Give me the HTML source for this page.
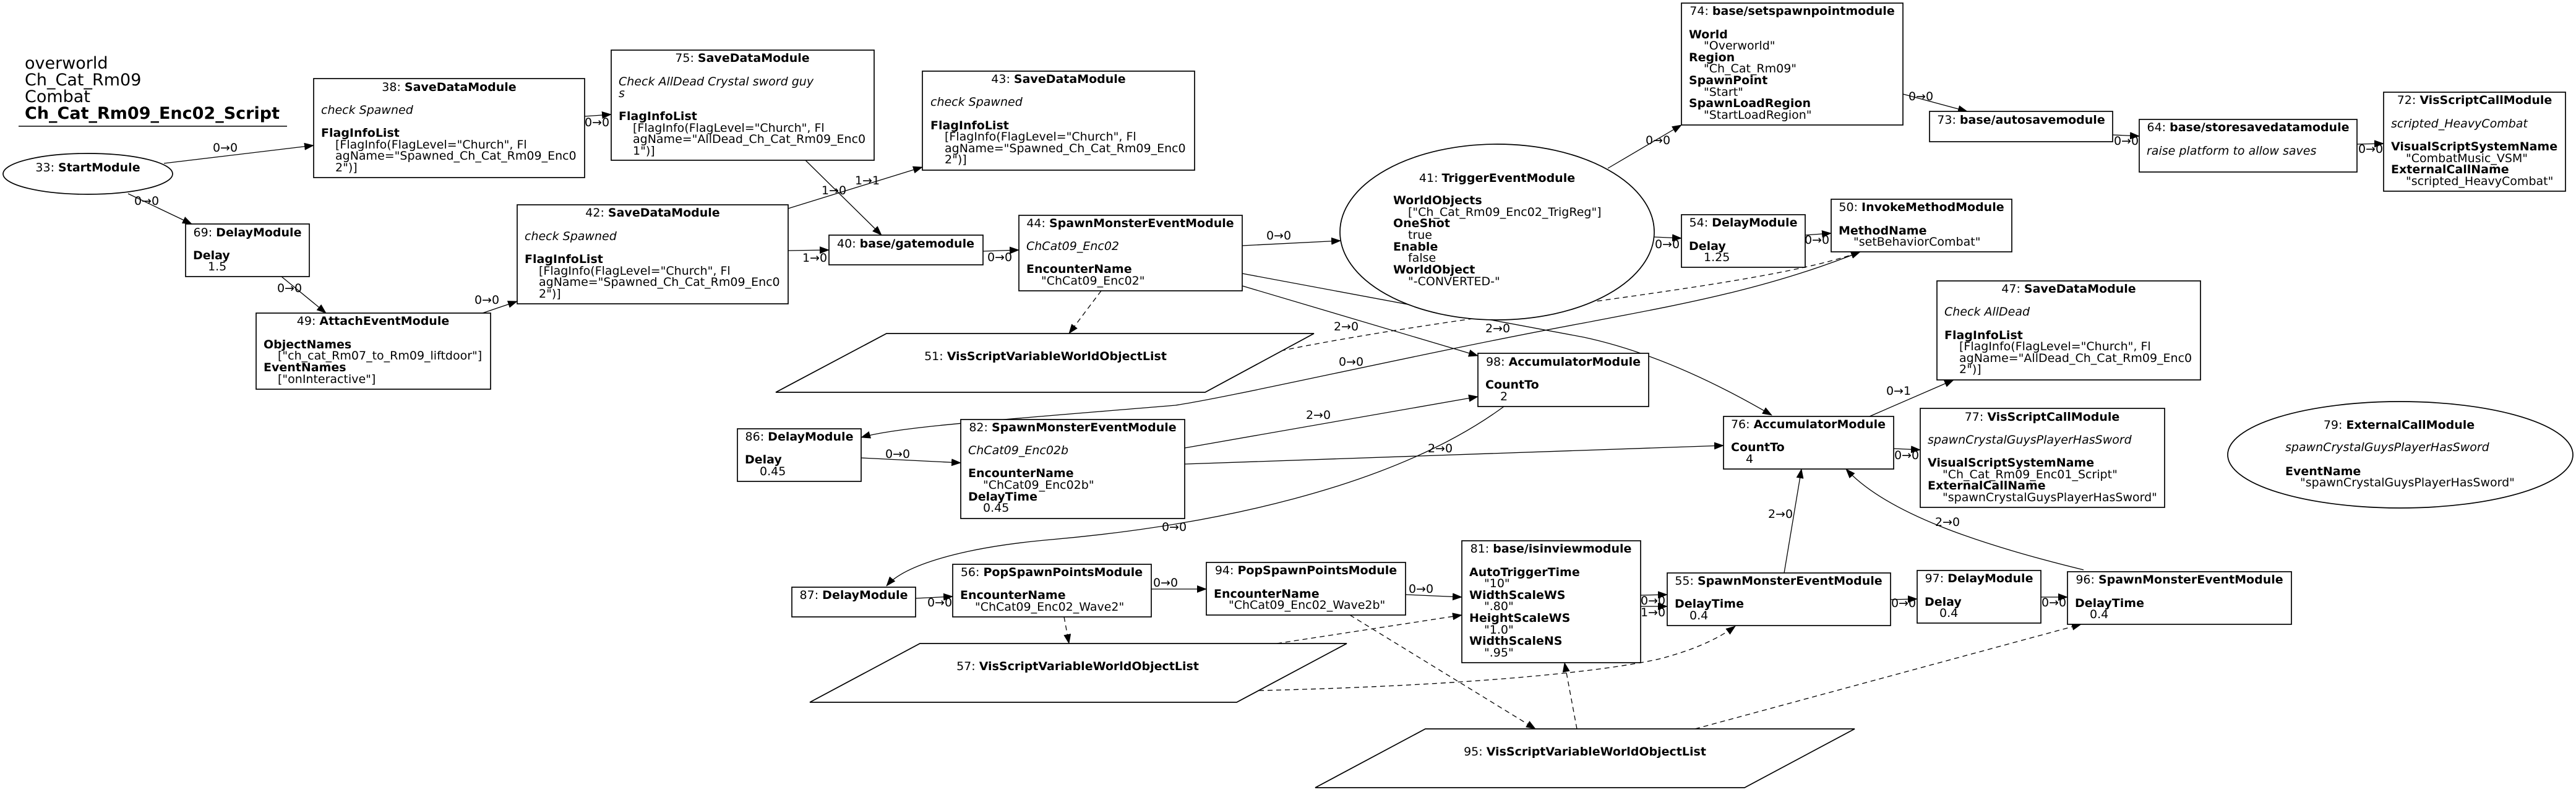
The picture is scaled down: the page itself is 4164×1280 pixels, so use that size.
<!DOCTYPE html>
<html><head><meta charset="utf-8"><style>
html,body{margin:0;padding:0;background:#fff;}
svg{display:block;}
text{font-family:"DejaVu Sans","Liberation Sans",sans-serif;font-size:19px;fill:#000;}
.b{font-weight:bold;}
.i{font-style:italic;}
.n{fill:#fff;stroke:#000;stroke-width:1.7;}
.e{fill:none;stroke:#000;stroke-width:1.3;}
.d{fill:none;stroke:#000;stroke-width:1.3;stroke-dasharray:8,6;}
.c{text-anchor:middle;}
</style></head><body>
<svg width="4164" height="1280" viewBox="0 0 4164 1280" xmlns="http://www.w3.org/2000/svg">
<defs>
<marker id="a" markerWidth="16" markerHeight="12" refX="15" refY="6" orient="auto" markerUnits="userSpaceOnUse"><path d="M0,0 L16,6 L0,12 z" fill="#000"/></marker>
</defs>
<rect width="4164" height="1280" fill="#fff"/>

<!-- title -->
<g style="font-size:27px">
<text x="40" y="111" style="font-size:27px">overworld</text>
<text x="40" y="138" style="font-size:27px">Ch_Cat_Rm09</text>
<text x="40" y="165" style="font-size:27px">Combat</text>
<text x="40" y="192" class="b" style="font-size:27px">Ch_Cat_Rm09_Enc02_Script</text>
</g>
<line x1="30" y1="204" x2="464" y2="204" stroke="#000" stroke-width="1.5"/>

<!-- edges -->
<path class="e" d="M265,264 L507,235" marker-end="url(#a)"/>
<path class="e" d="M207,313 L310,362" marker-end="url(#a)"/>
<path class="e" d="M455,447 L527,506" marker-end="url(#a)"/>
<path class="e" d="M780,506 L836,487" marker-end="url(#a)"/>
<path class="e" d="M945,188 L988,185" marker-end="url(#a)"/>
<path class="e" d="M1302,259 L1425,380" marker-end="url(#a)"/>
<path class="e" d="M1274,337 L1491,270" marker-end="url(#a)"/>
<path class="e" d="M1274,405 L1340,404" marker-end="url(#a)"/>
<path class="e" d="M1589,406 L1647,404" marker-end="url(#a)"/>
<path class="e" d="M2008,397 L2167,389" marker-end="url(#a)"/>
<path class="d" d="M1780,470 L1728,539" marker-end="url(#a)"/>
<path class="e" d="M2008,462 L2389,575" marker-end="url(#a)"/>
<path class="e" d="M2008,442 L2560,545 Q2700,575 2864,671" marker-end="url(#a)"/>
<path class="d" d="M2070,567 C2400,500 2850,465 3007,407" marker-end="url(#a)"/>
<path class="e" d="M2431,657 C2250,790 1950,850 1700,872 C1550,885 1460,915 1433,947" marker-end="url(#a)"/>
<path class="e" d="M3007,407 C2850,470 2700,495 2560,522 C2300,570 2000,640 1900,655 C1600,680 1450,690 1392,707" marker-end="url(#a)"/>
<path class="e" d="M1392,740 L1553,748" marker-end="url(#a)"/>
<path class="e" d="M1915,724 L2389,641" marker-end="url(#a)"/>
<path class="e" d="M1915,750 L2786,720" marker-end="url(#a)"/>
<path class="e" d="M1480,967 L1540,964" marker-end="url(#a)"/>
<path class="e" d="M1861,952 L1950,952" marker-end="url(#a)"/>
<path class="d" d="M1720,997 L1728,1040" marker-end="url(#a)"/>
<path class="e" d="M2272,961 L2363,965" marker-end="url(#a)"/>
<path class="d" d="M2182,994 L2482,1178" marker-end="url(#a)"/>
<path class="d" d="M2064,1040 L2363,994" marker-end="url(#a)"/>
<path class="d" d="M2035,1116 C2300,1110 2560,1092 2682,1065 Q2760,1045 2805,1012" marker-end="url(#a)"/>
<path class="d" d="M2549,1178 L2529,1071" marker-end="url(#a)"/>
<path class="d" d="M2740,1178 L3364,1009" marker-end="url(#a)"/>
<path class="e" d="M2652,962 L2695,961" marker-end="url(#a)"/>
<path class="e" d="M2652,980 L2695,980" marker-end="url(#a)"/>
<path class="e" d="M2884,926 L2912,758" marker-end="url(#a)"/>
<path class="e" d="M3056,969 L3099,968" marker-end="url(#a)"/>
<path class="e" d="M3299,965 L3342,965" marker-end="url(#a)"/>
<path class="e" d="M3368,921 C3200,880 3050,830 2984,758" marker-end="url(#a)"/>
<path class="e" d="M3061,725 L3104,727" marker-end="url(#a)"/>
<path class="e" d="M3022,673 L3158,614" marker-end="url(#a)"/>
<path class="e" d="M2599,272 L2718,202" marker-end="url(#a)"/>
<path class="e" d="M2674,383 L2718,385" marker-end="url(#a)"/>
<path class="e" d="M2918,380 L2960,377" marker-end="url(#a)"/>
<path class="e" d="M3076,152 L3180,180" marker-end="url(#a)"/>
<path class="e" d="M3415,218 L3458,220" marker-end="url(#a)"/>
<path class="e" d="M3810,233 L3853,232" marker-end="url(#a)"/>

<!-- edge labels -->
<g class="c">
<text class="c" x="364" y="245">0→0</text>
<text class="c" x="237" y="331">0→0</text>
<text class="c" x="468" y="472">0→0</text>
<text class="c" x="787" y="491">0→0</text>
<text class="c" x="965" y="204">0→0</text>
<text class="c" x="1348" y="314">1→0</text>
<text class="c" x="1402" y="298">1→1</text>
<text class="c" x="1317" y="423">1→0</text>
<text class="c" x="1616" y="422">0→0</text>
<text class="c" x="2067" y="387">0→0</text>
<text class="c" x="2176" y="534">2→0</text>
<text class="c" x="2421" y="537">2→0</text>
<text class="c" x="1898" y="858">0→0</text>
<text class="c" x="2184" y="591">0→0</text>
<text class="c" x="1451" y="740">0→0</text>
<text class="c" x="2131" y="677">2→0</text>
<text class="c" x="2328" y="731">2→0</text>
<text class="c" x="1519" y="980">0→0</text>
<text class="c" x="1884" y="948">0→0</text>
<text class="c" x="2297" y="958">0→0</text>
<text class="c" x="2672" y="977">0→0</text>
<text class="c" x="2672" y="996">1→0</text>
<text class="c" x="2878" y="837">2→0</text>
<text class="c" x="3077" y="981">0→0</text>
<text class="c" x="3320" y="980">0→0</text>
<text class="c" x="3148" y="850">2→0</text>
<text class="c" x="3082" y="742">0→0</text>
<text class="c" x="3069" y="638">0→1</text>
<text class="c" x="2680" y="233">0→0</text>
<text class="c" x="2695" y="401">0→0</text>
<text class="c" x="2937" y="394">0→0</text>
<text class="c" x="3105" y="162">0→0</text>
<text class="c" x="3437" y="234">0→0</text>
<text class="c" x="3832" y="247">0→0</text>
</g>

<!-- 33 StartModule -->
<ellipse class="n" cx="142" cy="281" rx="137" ry="33"/>
<text class="c" x="142" y="277">33: <tspan class="b">StartModule</tspan></text>

<!-- 38 -->
<rect class="n" x="507" y="127" width="438" height="160"/>
<text class="c" x="726" y="147">38: <tspan class="b">SaveDataModule</tspan></text>
<text class="i" x="519" y="184">check Spawned</text>
<text class="b" x="519" y="221">FlagInfoList</text>
<text x="542" y="240">[FlagInfo(FlagLevel="Church", Fl</text>
<text x="542" y="258">agName="Spawned_Ch_Cat_Rm09_Enc0</text>
<text x="542" y="277">2")]</text>

<!-- 75 -->
<rect class="n" x="988" y="81" width="425" height="178"/>
<text class="c" x="1200" y="100">75: <tspan class="b">SaveDataModule</tspan></text>
<text class="i" x="1000" y="138">Check AllDead  Crystal sword guy</text>
<text class="i" x="1000" y="157">s</text>
<text class="b" x="1000" y="194">FlagInfoList</text>
<text x="1023" y="213">[FlagInfo(FlagLevel="Church", Fl</text>
<text x="1023" y="231">agName="AllDead_Ch_Cat_Rm09_Enc0</text>
<text x="1023" y="250">1")]</text>

<!-- 43 -->
<rect class="n" x="1491" y="115" width="440" height="160"/>
<text class="c" x="1711" y="134">43: <tspan class="b">SaveDataModule</tspan></text>
<text class="i" x="1504" y="171">check Spawned</text>
<text class="b" x="1504" y="209">FlagInfoList</text>
<text x="1527" y="227">[FlagInfo(FlagLevel="Church", Fl</text>
<text x="1527" y="246">agName="Spawned_Ch_Cat_Rm09_Enc0</text>
<text x="1527" y="264">2")]</text>

<!-- 42 -->
<rect class="n" x="836" y="331" width="438" height="160"/>
<text class="c" x="1055" y="350">42: <tspan class="b">SaveDataModule</tspan></text>
<text class="i" x="848" y="388">check Spawned</text>
<text class="b" x="848" y="425">FlagInfoList</text>
<text x="871" y="444">[FlagInfo(FlagLevel="Church", Fl</text>
<text x="871" y="462">agName="Spawned_Ch_Cat_Rm09_Enc0</text>
<text x="871" y="481">2")]</text>

<!-- 69 -->
<rect class="n" x="300" y="362" width="200" height="85"/>
<text class="c" x="400" y="382">69: <tspan class="b">DelayModule</tspan></text>
<text class="b" x="312" y="419">Delay</text>
<text x="336" y="437">1.5</text>

<!-- 49 -->
<rect class="n" x="414" y="506" width="379" height="123"/>
<text class="c" x="603" y="525">49: <tspan class="b">AttachEventModule</tspan></text>
<text class="b" x="426" y="563">ObjectNames</text>
<text x="449" y="581">["ch_cat_Rm07_to_Rm09_liftdoor"]</text>
<text class="b" x="426" y="600">EventNames</text>
<text x="449" y="619">["onInteractive"]</text>

<!-- 40 -->
<rect class="n" x="1340" y="380" width="249" height="48"/>
<text class="c" x="1464" y="400">40: <tspan class="b">base/gatemodule</tspan></text>

<!-- 44 -->
<rect class="n" x="1647" y="348" width="361" height="122"/>
<text class="c" x="1827" y="367">44: <tspan class="b">SpawnMonsterEventModule</tspan></text>
<text class="i" x="1659" y="404">ChCat09_Enc02</text>
<text class="b" x="1659" y="441">EncounterName</text>
<text x="1683" y="460">"ChCat09_Enc02"</text>

<!-- 41 -->
<ellipse class="n" cx="2420" cy="375" rx="254" ry="142"/>
<text class="c" x="2420" y="294">41: <tspan class="b">TriggerEventModule</tspan></text>
<text class="b" x="2252" y="330">WorldObjects</text>
<text x="2276" y="349">["Ch_Cat_Rm09_Enc02_TrigReg"]</text>
<text class="b" x="2252" y="367">OneShot</text>
<text x="2276" y="386">true</text>
<text class="b" x="2252" y="405">Enable</text>
<text x="2276" y="423">false</text>
<text class="b" x="2252" y="442">WorldObject</text>
<text x="2276" y="461">"-CONVERTED-"</text>

<!-- 51 -->
<polygon class="n" points="1433,539 2124,539 1948,634 1254,634"/>
<text class="c" x="1690" y="582">51: <tspan class="b">VisScriptVariableWorldObjectList</tspan></text>

<!-- 98 -->
<rect class="n" x="2389" y="571" width="276" height="86"/>
<text class="c" x="2527" y="591">98: <tspan class="b">AccumulatorModule</tspan></text>
<text class="b" x="2401" y="628">CountTo</text>
<text x="2425" y="647">2</text>

<!-- 86 -->
<rect class="n" x="1192" y="693" width="200" height="85"/>
<text class="c" x="1292" y="712">86: <tspan class="b">DelayModule</tspan></text>
<text class="b" x="1204" y="749">Delay</text>
<text x="1228" y="768">0.45</text>

<!-- 82 -->
<rect class="n" x="1553" y="678" width="362" height="160"/>
<text class="c" x="1734" y="697">82: <tspan class="b">SpawnMonsterEventModule</tspan></text>
<text class="i" x="1565" y="734">ChCat09_Enc02b</text>
<text class="b" x="1565" y="771">EncounterName</text>
<text x="1589" y="790">"ChCat09_Enc02b"</text>
<text class="b" x="1565" y="809">DelayTime</text>
<text x="1589" y="827">0.45</text>

<!-- 87 -->
<rect class="n" x="1280" y="949" width="200" height="48"/>
<text class="c" x="1380" y="968">87: <tspan class="b">DelayModule</tspan></text>

<!-- 56 -->
<rect class="n" x="1540" y="912" width="321" height="85"/>
<text class="c" x="1700" y="931">56: <tspan class="b">PopSpawnPointsModule</tspan></text>
<text class="b" x="1552" y="968">EncounterName</text>
<text x="1576" y="987">"ChCat09_Enc02_Wave2"</text>

<!-- 94 -->
<rect class="n" x="1950" y="909" width="322" height="85"/>
<text class="c" x="2111" y="928">94: <tspan class="b">PopSpawnPointsModule</tspan></text>
<text class="b" x="1962" y="966">EncounterName</text>
<text x="1986" y="984">"ChCat09_Enc02_Wave2b"</text>

<!-- 81 -->
<rect class="n" x="2363" y="874" width="289" height="197"/>
<text class="c" x="2507" y="893">81: <tspan class="b">base/isinviewmodule</tspan></text>
<text class="b" x="2375" y="931">AutoTriggerTime</text>
<text x="2399" y="949">"10"</text>
<text class="b" x="2375" y="968">WidthScaleWS</text>
<text x="2399" y="986">".80"</text>
<text class="b" x="2375" y="1005">HeightScaleWS</text>
<text x="2399" y="1024">"1.0"</text>
<text class="b" x="2375" y="1042">WidthScaleNS</text>
<text x="2399" y="1061">".95"</text>

<!-- 57 -->
<polygon class="n" points="1487,1040 2177,1040 1999,1135 1309,1135"/>
<text class="c" x="1742" y="1083">57: <tspan class="b">VisScriptVariableWorldObjectList</tspan></text>

<!-- 95 -->
<polygon class="n" points="2304,1178 2998,1178 2820,1273 2126,1273"/>
<text class="c" x="2562" y="1221">95: <tspan class="b">VisScriptVariableWorldObjectList</tspan></text>

<!-- 74 -->
<rect class="n" x="2718" y="5" width="358" height="197"/>
<text class="c" x="2897" y="24">74: <tspan class="b">base/setspawnpointmodule</tspan></text>
<text class="b" x="2730" y="62">World</text>
<text x="2754" y="80">"Overworld"</text>
<text class="b" x="2730" y="99">Region</text>
<text x="2754" y="117">"Ch_Cat_Rm09"</text>
<text class="b" x="2730" y="136">SpawnPoint</text>
<text x="2754" y="155">"Start"</text>
<text class="b" x="2730" y="173">SpawnLoadRegion</text>
<text x="2754" y="192">"StartLoadRegion"</text>

<!-- 73 -->
<rect class="n" x="3119" y="180" width="296" height="49"/>
<text class="c" x="3267" y="200">73: <tspan class="b">base/autosavemodule</tspan></text>

<!-- 64 -->
<rect class="n" x="3458" y="193" width="352" height="85"/>
<text class="c" x="3634" y="212">64: <tspan class="b">base/storesavedatamodule</tspan></text>
<text class="i" x="3470" y="250">raise platform to allow saves</text>

<!-- 72 -->
<rect class="n" x="3853" y="149" width="294" height="160"/>
<text class="c" x="4000" y="168">72: <tspan class="b">VisScriptCallModule</tspan></text>
<text class="i" x="3865" y="206">scripted_HeavyCombat</text>
<text class="b" x="3865" y="243">VisualScriptSystemName</text>
<text x="3889" y="262">"CombatMusic_VSM"</text>
<text class="b" x="3865" y="280">ExternalCallName</text>
<text x="3889" y="299">"scripted_HeavyCombat"</text>

<!-- 54 -->
<rect class="n" x="2718" y="347" width="200" height="85"/>
<text class="c" x="2818" y="366">54: <tspan class="b">DelayModule</tspan></text>
<text class="b" x="2730" y="404">Delay</text>
<text x="2754" y="422">1.25</text>

<!-- 50 -->
<rect class="n" x="2960" y="322" width="292" height="85"/>
<text class="c" x="3106" y="341">50: <tspan class="b">InvokeMethodModule</tspan></text>
<text class="b" x="2972" y="379">MethodName</text>
<text x="2996" y="397">"setBehaviorCombat"</text>

<!-- 47 -->
<rect class="n" x="3131" y="454" width="426" height="160"/>
<text class="c" x="3344" y="473">47: <tspan class="b">SaveDataModule</tspan></text>
<text class="i" x="3143" y="510">Check AllDead</text>
<text class="b" x="3143" y="548">FlagInfoList</text>
<text x="3167" y="566">[FlagInfo(FlagLevel="Church", Fl</text>
<text x="3167" y="585">agName="AllDead_Ch_Cat_Rm09_Enc0</text>
<text x="3167" y="603">2")]</text>

<!-- 76 -->
<rect class="n" x="2786" y="673" width="275" height="85"/>
<text class="c" x="2923" y="692">76: <tspan class="b">AccumulatorModule</tspan></text>
<text class="b" x="2798" y="729">CountTo</text>
<text x="2822" y="748">4</text>

<!-- 77 -->
<rect class="n" x="3104" y="660" width="395" height="160"/>
<text class="c" x="3301" y="680">77: <tspan class="b">VisScriptCallModule</tspan></text>
<text class="i" x="3116" y="717">spawnCrystalGuysPlayerHasSword</text>
<text class="b" x="3116" y="754">VisualScriptSystemName</text>
<text x="3140" y="773">"Ch_Cat_Rm09_Enc01_Script"</text>
<text class="b" x="3116" y="791">ExternalCallName</text>
<text x="3140" y="810">"spawnCrystalGuysPlayerHasSword"</text>

<!-- 79 -->
<ellipse class="n" cx="3880" cy="735" rx="279" ry="86"/>
<text class="c" x="3878" y="693">79: <tspan class="b">ExternalCallModule</tspan></text>
<text class="i" x="3694" y="729">spawnCrystalGuysPlayerHasSword</text>
<text class="b" x="3694" y="768">EventName</text>
<text x="3718" y="786">"spawnCrystalGuysPlayerHasSword"</text>

<!-- 55 -->
<rect class="n" x="2695" y="926" width="361" height="85"/>
<text class="c" x="2875" y="945">55: <tspan class="b">SpawnMonsterEventModule</tspan></text>
<text class="b" x="2707" y="982">DelayTime</text>
<text x="2731" y="1001">0.4</text>

<!-- 97 -->
<rect class="n" x="3099" y="922" width="200" height="85"/>
<text class="c" x="3199" y="941">97: <tspan class="b">DelayModule</tspan></text>
<text class="b" x="3111" y="979">Delay</text>
<text x="3135" y="997">0.4</text>

<!-- 96 -->
<rect class="n" x="3342" y="924" width="362" height="85"/>
<text class="c" x="3523" y="943">96: <tspan class="b">SpawnMonsterEventModule</tspan></text>
<text class="b" x="3354" y="981">DelayTime</text>
<text x="3378" y="999">0.4</text>

</svg>
</body></html>
